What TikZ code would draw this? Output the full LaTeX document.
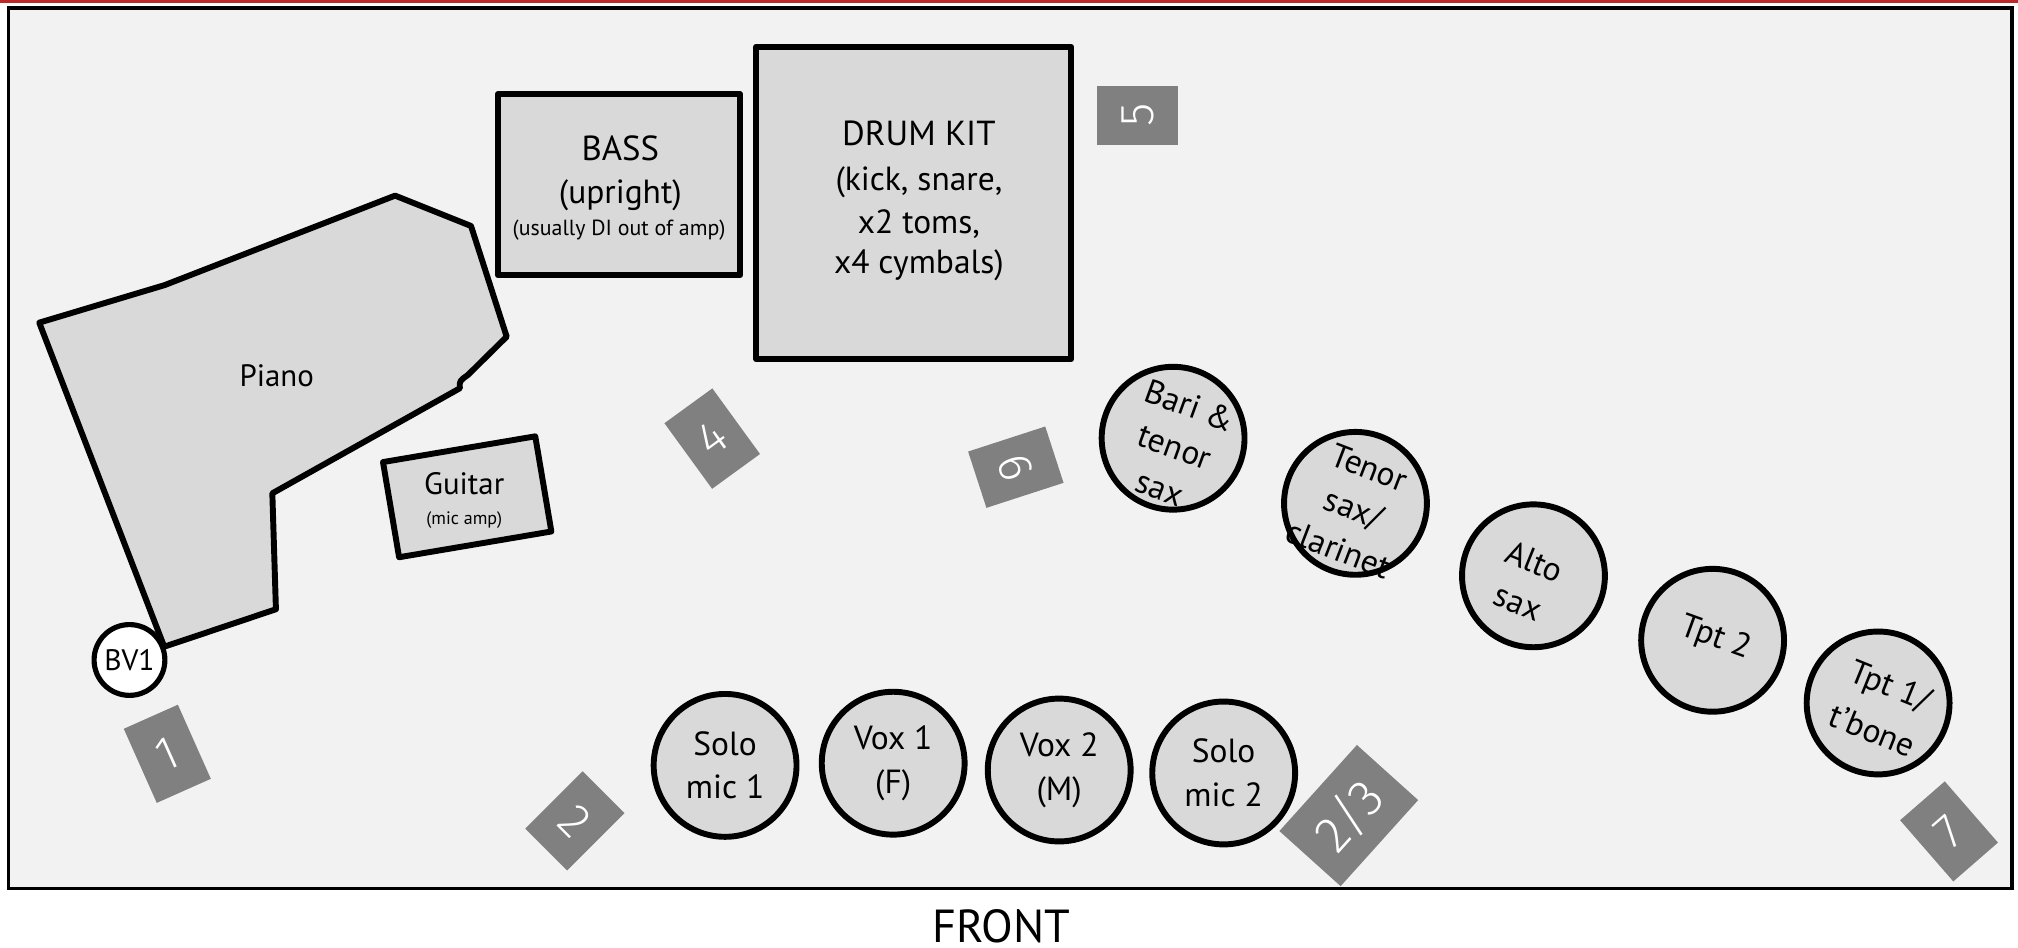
\documentclass[tikz,border=0pt]{standalone}
\usepackage{fontspec}
\setmainfont{PT Sans}
\newfontfamily\numfont{Fira Sans Light}
\definecolor{bg}{HTML}{F2F2F2}
\definecolor{boxfill}{HTML}{D9D9D9}
\definecolor{numgray}{HTML}{808080}
\definecolor{topred}{RGB}{192,40,40}
\begin{document}
\begin{tikzpicture}[x=1pt,y=-1pt,
  thickline/.style={line width=4.6pt, line join=round},
  kit/.style={draw=black, fill=boxfill, thickline, rectangle, inner sep=0pt},
  player/.style={draw=black, fill=boxfill, line width=4.6pt, circle, minimum size=111pt, inner sep=0pt},
  ptext/.style={font=\fontsize{26}{34}\selectfont, align=center, inner sep=0pt},
  numbox/.style={fill=numgray, minimum width=46pt, minimum height=63pt, inner sep=0pt, text=white, font=\numfont\fontsize{37}{37}\selectfont},
  lbl/.style={inner sep=0pt}
]
\useasboundingbox (0,0) rectangle (1568,736);
\fill[white] (0,0) rectangle (1568,736);
\draw[topred, line width=2pt] (0,1.2) -- (1568,1.2);
\draw[fill=bg, line width=2.8pt] (6.5,6) rectangle (1563.5,690.5);

% piano
\draw[fill=boxfill, thickline] (30.5,250.7) -- (128,221.5) -- (307,152) -- (366,175.6) -- (393.7,261.6) -- (363.5,291.4) .. controls (357,296) .. (357.3,301.7) -- (211.6,383.3) -- (214.4,473.4) -- (127.6,502.5) -- cycle;
\node[lbl, font=\fontsize{24}{28}\selectfont] (pianot) at (215,292) {Piano};

% BV1
\node[circle, draw=black, fill=white, line width=4pt, minimum size=55pt, inner sep=0pt, font=\fontsize{23}{26}\selectfont] (bv1) at (100.6,512.8) {BV1};

% bass
\node[kit, minimum width=188pt, minimum height=141pt] (bass) at (481,143.5) {};
\node[lbl, font=\fontsize{27}{30}\selectfont] (basst) at (482,115) {BASS};
\node[lbl, font=\fontsize{26}{30}\selectfont] (uprt) at (482,152) {(upright)};
\node[lbl, font=\fontsize{17}{20}\selectfont] (usually) at (481,179) {(usually DI out of amp)};

% drum kit
\node[kit, minimum width=245pt, minimum height=242.6pt] (drum) at (710,157.7) {};
\node[lbl, font=\fontsize{27}{30}\selectfont] (drum1) at (714,103.6) {DRUM KIT};
\node[lbl, font=\fontsize{26}{30}\selectfont] (drum2) at (714,142) {(kick, snare,};
\node[lbl, font=\fontsize{26}{30}\selectfont] (drum3) at (714,174) {x2 toms,};
\node[lbl, font=\fontsize{26}{30}\selectfont] (drum4) at (714,206) {x4 cymbals)};

% guitar
\node[kit, minimum width=120pt, minimum height=75pt, rotate=9.6] (guitar) at (363,386) {};
\node[lbl, font=\fontsize{24}{28}\selectfont] (guitart) at (360.7,375.6) {Guitar};
\node[lbl, font=\fontsize{14}{16}\selectfont] (micamp) at (360.7,404) {(mic amp)};

% players
\node[player] (solo1) at (563.4,594.7) {};
\node[player] (vox1) at (694,593) {};
\node[player] (vox2) at (823,598.3) {};
\node[player] (solo2) at (950.8,600.6) {};
\node[player] (bari) at (911.5,340.5) {};
\node[player] (tenor) at (1053.2,391.1) {};
\node[player] (alto) at (1191.5,447.4) {};
\node[player] (tpt2) at (1330.7,497.5) {};
\node[player] (tpt1) at (1459.3,546.2) {};

\node[ptext] (solo1t) at (solo1) {Solo\\mic 1};
\node[ptext] (vox1t) at (vox1) {Vox 1\\(F)};
\node[ptext] (vox2t) at (vox2) {Vox 2\\(M)};
\node[ptext] (solo2t) at (solo2) {Solo\\mic 2};
\node[ptext, rotate=-20] (barit) at (913,347) {Bari \&\\tenor\\sax};
\node[ptext, rotate=-21] (tenort) at (1052,395) {Tenor\\sax/\\clarinet};
\node[ptext, rotate=-22] (altot) at (1186,452) {Alto\\sax};
\node[ptext, rotate=-20] (tpt2t) at (1333,496) {Tpt 2};
\node[ptext, rotate=-22, font=\fontsize{26}{38}\selectfont] (tpt1t) at (1462,550) {Tpt 1/\\t’bone};

% numbered boxes
\node[numbox, rotate=24] (n1) at (130,585.7) {1};
\node[numbox, rotate=-45] (n2) at (446.7,637.8) {2};
\node[numbox, rotate=36] (n4) at (553.4,340.8) {4};
\node[numbox, rotate=90] (n5) at (884,89.5) {5};
\node[numbox, rotate=-72] (n6) at (789.3,363) {6};
\node[numbox, minimum width=90pt, minimum height=64pt, rotate=48, font=\numfont\fontsize{40}{40}\selectfont] (n23) at (1048,633.7) {2/3};
\node[numbox, rotate=41] (n7) at (1514.4,646) {7};

% front
\node[lbl, font=\fontsize{36}{40}\selectfont] (front) at (778,719.5) {FRONT};
\end{tikzpicture}
\end{document}
